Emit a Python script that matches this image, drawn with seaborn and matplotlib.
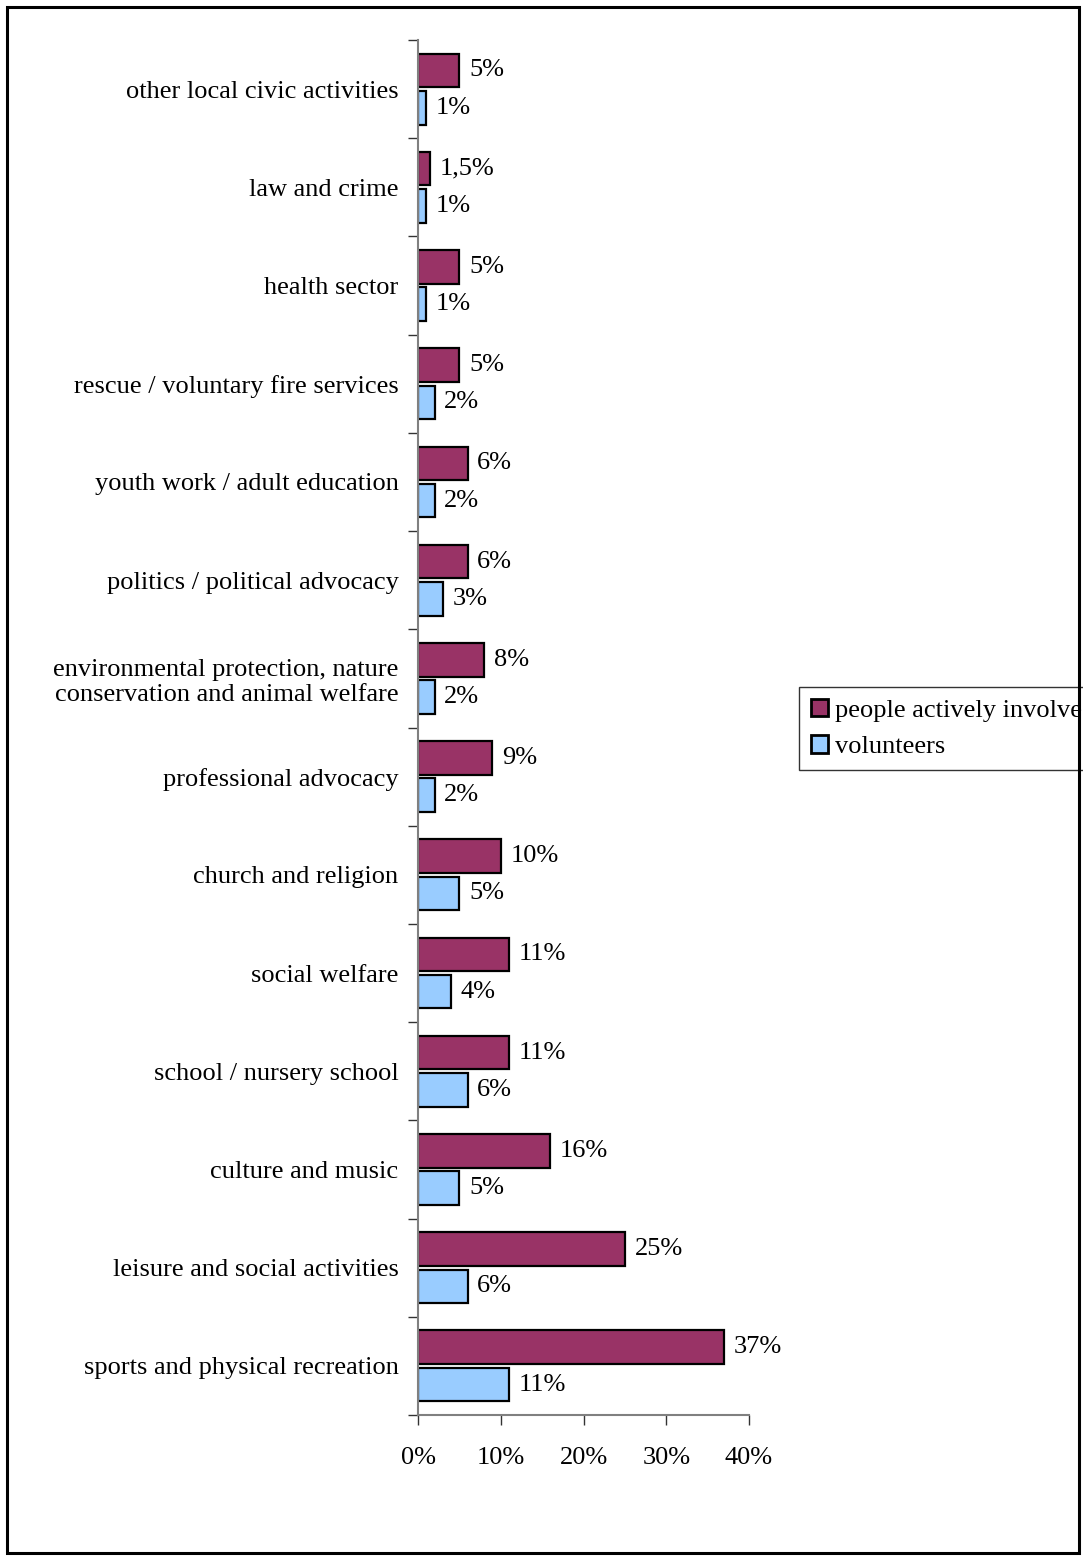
import numpy as np
import pandas as pd
import matplotlib
matplotlib.use("Agg")
import matplotlib.pyplot as plt
import seaborn as sns
from matplotlib.patches import Rectangle, Patch

categories = [
    "other local civic activities",
    "law and crime",
    "health sector",
    "rescue / voluntary fire services",
    "youth work / adult education",
    "politics / political advocacy",
    "environmental protection, nature\nconservation and animal welfare",
    "professional advocacy",
    "church and religion",
    "social welfare",
    "school / nursery school",
    "culture and music",
    "leisure and social activities",
    "sports and physical recreation",
]
involved = [5, 1.5, 5, 5, 6, 6, 8, 9, 10, 11, 11, 16, 25, 37]
volunteers = [1, 1, 1, 2, 2, 3, 2, 2, 5, 4, 6, 5, 6, 11]
involved_labels = ["5%", "1,5%", "5%", "5%", "6%", "6%", "8%", "9%", "10%", "11%", "11%", "16%", "25%", "37%"]
volunteer_labels = ["1%", "1%", "1%", "2%", "2%", "3%", "2%", "2%", "5%", "4%", "6%", "5%", "6%", "11%"]
series_names = ["people actively involved", "volunteers"]
xticks = [0, 10, 20, 30, 40]
xtick_labels = ["0%", "10%", "20%", "30%", "40%"]

sns.set_style("white", rc={"xtick.bottom": True, "ytick.left": True,
                           "text.color": "black", "xtick.color": "black",
                           "ytick.color": "black", "axes.labelcolor": "black"})
plt.rcParams["font.family"] = ["Liberation Serif", "DejaVu Serif"]
FS = 19

df = pd.DataFrame({
    "category": categories * 2,
    "value": involved + volunteers,
    "series": [series_names[0]] * len(categories) + [series_names[1]] * len(categories),
})

W, H = 1083, 1560
fig = plt.figure(figsize=(W / 100, H / 100), dpi=100)
ax = fig.add_axes([418 / W, 1 - 1415 / H, (749 - 418) / W, (1415 - 40) / H])

sns.barplot(data=df, y="category", x="value", hue="series", orient="h",
            palette=["#993366", "#99CCFF"], saturation=1, edgecolor="black", linewidth=1.6,
            width=0.76, gap=0.1, ax=ax, legend=False, order=categories, hue_order=series_names)

ax.set_xlim(0, 40)
ax.set_ylim(len(categories) - 0.5, -0.5)
ax.set_xticks(xticks)
ax.set_xticklabels(xtick_labels, fontsize=FS)
ax.set_yticks(range(len(categories)))
ax.set_yticklabels(categories, fontsize=FS, ha="right", multialignment="right")
ax.set_yticks(np.arange(-0.5, len(categories), 1), minor=True)
ax.tick_params(axis="y", which="major", left=False, length=0, pad=14)
ax.tick_params(axis="y", which="minor", left=True, length=7, width=1, color="#333333", direction="out")
ax.tick_params(axis="x", which="major", bottom=True, length=7, width=1, color="#333333", direction="out", pad=16)
ax.set_xlabel("")
ax.set_ylabel("")
for s in ["top", "right"]:
    ax.spines[s].set_visible(False)
for s in ["left", "bottom"]:
    ax.spines[s].set_color("#808080")
    ax.spines[s].set_linewidth(1.5)

# value labels
for container, labels in zip(ax.containers, [involved_labels, volunteer_labels]):
    ax.bar_label(container, labels=labels, padding=7, fontsize=FS, color="black")

# legend
handles = [Patch(facecolor="#993366", edgecolor="black", linewidth=2.0),
           Patch(facecolor="#99CCFF", edgecolor="black", linewidth=2.0)]
leg = fig.legend(handles, series_names, loc="upper left",
                 bbox_to_anchor=(799 / W, 1 - 687 / H), fontsize=FS,
                 frameon=True, fancybox=False, handlelength=0.65, handleheight=0.65,
                 handletextpad=0.25, borderpad=0.45, labelspacing=0.5, borderaxespad=0)
leg.get_frame().set_edgecolor("black")
leg.get_frame().set_linewidth(1.0)

# figure border
fig.patches.append(Rectangle((7 / W, 7 / H), (1079 - 7) / W, (1553 - 7) / H,
                             transform=fig.transFigure, fill=False,
                             edgecolor="black", linewidth=2.2, zorder=10))

fig.savefig("out.png", dpi=100)
